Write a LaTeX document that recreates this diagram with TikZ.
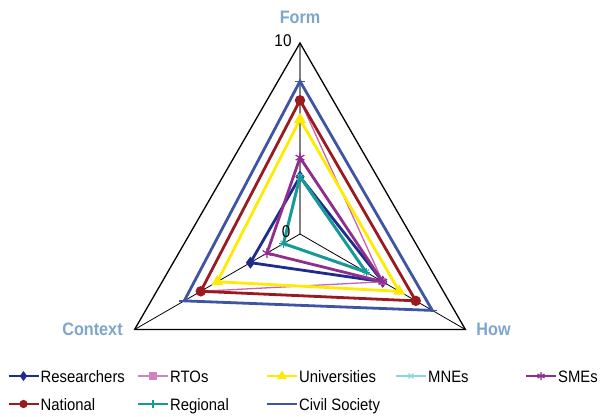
\documentclass[tikz,border=0pt]{standalone}
\usepackage{fontspec}
\setmainfont{Liberation Sans}[FakeStretch=0.9]
\usetikzlibrary{calc,plotmarks}
\definecolor{cRes}{HTML}{1F2C8C}
\definecolor{cRTO}{HTML}{C864AA}
\definecolor{cUni}{HTML}{FFEB00}
\definecolor{cMNE}{HTML}{5BC3D9}
\definecolor{cSME}{HTML}{8E2E8E}
\definecolor{cNat}{HTML}{9A1A20}
\definecolor{cReg}{HTML}{159A94}
\definecolor{cCiv}{HTML}{3D55A3}
\definecolor{cAxisLbl}{HTML}{7EA5CB}
% series: name, color, mark options, form, how, context, width
\newcommand\SeriesDraw[7]{%
  \coordinate (#1f) at ($(C)!#4!(F)$);
  \coordinate (#1h) at ($(C)!#5!(H)$);
  \coordinate (#1c) at ($(C)!#6!(K)$);
  \draw[line width=#7, draw=#2] (#1f) -- (#1h) -- (#1c) -- cycle;
  \path[draw=#2, fill=#2, line width=1.3pt] plot[only marks, #3] coordinates {(#1f) (#1h) (#1c)};
}
% legend: name, x, y, color, mark options, text
\newcommand\LegEntry[6]{%
  \coordinate (#1a) at (#2,#3);
  \coordinate (#1b) at (#2+30,#3);
  \coordinate (#1m) at (#2+15,#3);
  \draw[line width=2pt, draw=#4] (#1a) -- (#1b);
  \path[draw=#4, fill=#4, line width=1.2pt] plot[only marks, #5] coordinates {(#1m)};
  \node[legtext] (#1t) at (#2+32,#3+6) {#6};
}
\begin{document}
\begin{tikzpicture}[x=1pt,y=-1pt,
  legtext/.style={anchor=base west, inner sep=0pt, font=\fontsize{16.5}{18}\selectfont},
  axlbl/.style={inner sep=0pt, text=cAxisLbl, font=\fontsize{18}{20}\selectfont\bfseries},
  ticklbl/.style={inner sep=0pt, font=\fontsize{17}{19}\selectfont}]
\useasboundingbox (0,0) rectangle (601,416);
\coordinate (C) at (300,234);
\coordinate (F) at (300,43);
\coordinate (H) at (465.4,329.5);
\coordinate (K) at (134.6,329.5);
% axes
\draw[line width=1.6pt, draw=gray] (C) -- (F);
\draw[line width=0.8pt] (C) -- (H);
\draw[line width=0.8pt] (C) -- (K);
\draw[line width=1.3pt, line join=miter] (F) -- (H) -- (K) -- cycle;
% series
\SeriesDraw{res}{cRes}{mark=diamond*, mark size=5pt}{0.3}{0.5}{0.3}{2.8pt}
\SeriesDraw{rto}{cRTO}{mark=square*, mark size=3pt}{0.7}{0.5}{0.6}{1.3pt}
\SeriesDraw{uni}{cUni}{mark=triangle*, mark size=5.5pt}{0.6}{0.6}{0.5}{2.8pt}
\SeriesDraw{mne}{cMNE}{mark=x, mark size=4pt}{0.3}{0.4}{0.1}{2.8pt}
\SeriesDraw{sme}{cSME}{mark=asterisk, mark size=5pt}{0.4}{0.5}{0.2}{2.8pt}
\SeriesDraw{nat}{cNat}{mark=*, mark size=4.5pt}{0.7}{0.7}{0.6}{2.8pt}
\SeriesDraw{reg}{cReg}{mark=+, mark size=4pt}{0.3}{0.4}{0.1}{2.8pt}
\SeriesDraw{civ}{cCiv}{mark=-, mark size=5pt}{0.8}{0.8}{0.7}{2.8pt}
% labels
\node[axlbl] (lform) at (300,17) {Form};
\node[axlbl] (lhow) at (493.5,329) {How};
\node[axlbl] (lctx) at (92.5,329) {Context};
\node[ticklbl] (l10) at (283,41) {10};
\node[ticklbl] (l0) at (286,232) {0};
% legend
\LegEntry{gres}{8.5}{376}{cRes}{mark=diamond*, mark size=4pt}{Researchers}
\LegEntry{grto}{138}{376}{cRTO!80!white}{mark=square*, mark size=3pt}{RTOs}
\LegEntry{guni}{267}{376}{cUni}{mark=triangle*, mark size=4.5pt}{Universities}
\LegEntry{gmne}{396}{376}{cMNE!70!white}{mark=x, mark size=3.5pt}{MNEs}
\LegEntry{gsme}{526}{376}{cSME}{mark=asterisk, mark size=4pt}{SMEs}
\LegEntry{gnat}{8.5}{404}{cNat}{mark=*, mark size=3.5pt}{National}
\LegEntry{greg}{138}{404}{cReg}{mark=+, mark size=4pt}{Regional}
\LegEntry{gciv}{267}{404}{cCiv}{mark=-, mark size=4pt}{Civil Society}
\end{tikzpicture}
\end{document}
